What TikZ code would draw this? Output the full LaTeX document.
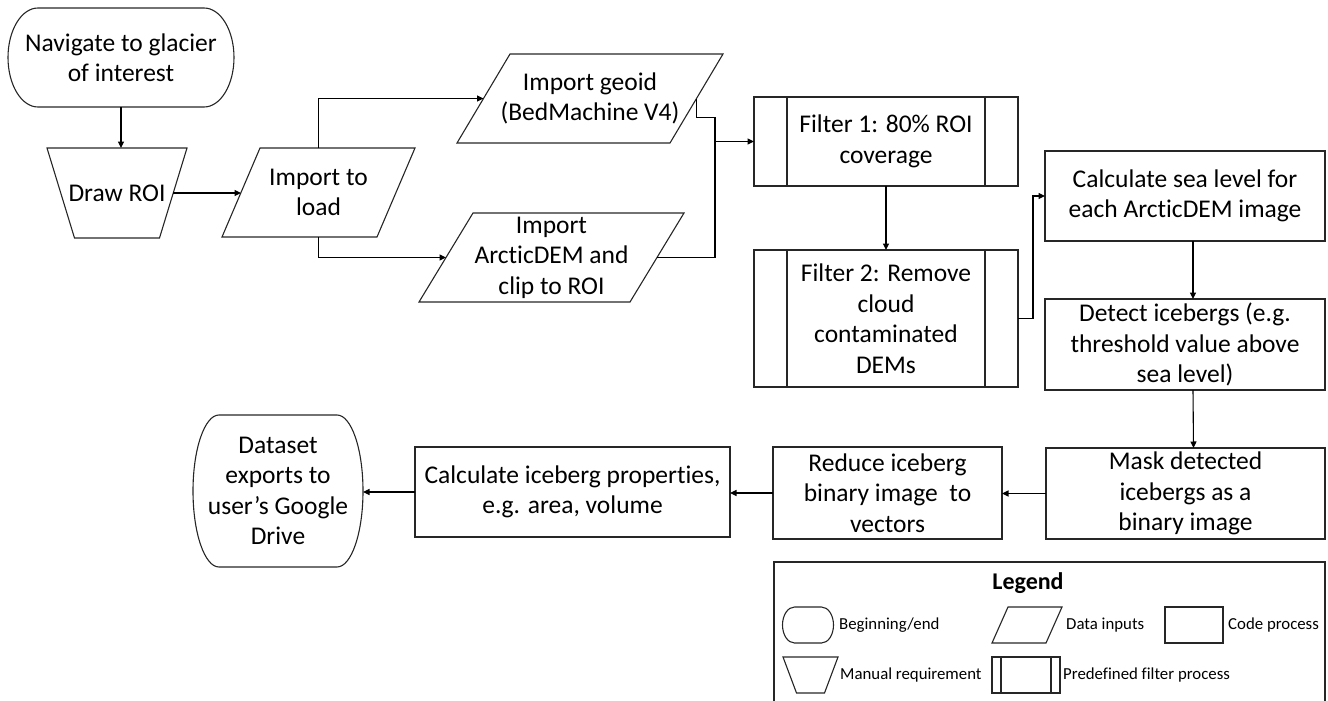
\documentclass[tikz,border=0pt]{standalone}
\usepackage{fontspec}
\setmainfont{Carlito}[Ligatures=NoCommon]
\usetikzlibrary{arrows.meta,calc}

% Flowchart terminator: flat top and bottom, half-ellipse ends
\newcommand\termshape[3]{%
  \draw[outline] ($(#1.north west)+(#2,0)$) -- ($(#1.north east)+(-#2,0)$)
    arc[start angle=90, end angle=-90, x radius=#2, y radius=#3]
    -- ($(#1.south west)+(#2,0)$)
    arc[start angle=270, end angle=90, x radius=#2, y radius=#3] -- cycle;}
% Data input: parallelogram leaning right, with side midpoints #1-l and #1-r
\newcommand\datashape[2]{%
  \draw[outline] (#1.south west) -- ($(#1.south east)+(-#2,0)$) -- (#1.north east)
    -- ($(#1.north west)+(#2,0)$) -- cycle;
  \coordinate (#1-l) at ($(#1.west)+(#2/2,0)$);
  \coordinate (#1-r) at ($(#1.east)+(-#2/2,0)$);}
% Manual operation: trapezoid, wide on top
\newcommand\manshape[2]{%
  \draw[outline] (#1.north west) -- (#1.north east) -- ($(#1.south east)+(-#2,0)$)
    -- ($(#1.south west)+(#2,0)$) -- cycle;
  \coordinate (#1-l) at ($(#1.west)+(#2/2,0)$);
  \coordinate (#1-r) at ($(#1.east)+(-#2/2,0)$);}

\begin{document}
\begin{tikzpicture}[x=1pt,y=1pt,
  outline/.style={draw=black!85, line width=1.1pt},
  txt/.style={font=\fontsize{25.5}{30.5}\selectfont, align=center, text=black},
  ltxt/.style={font=\fontsize{16.8}{20}\selectfont, text=black, inner sep=0pt, anchor=west},
  size/.style 2 args={minimum width=#1, minimum height=#2},
  box/.style 2 args={rectangle, outline, txt, inner sep=0pt, outer sep=0pt, size={#1}{#2}},
  shell/.style 2 args={rectangle, txt, inner sep=0pt, outer sep=0pt, size={#1}{#2}},
  filt/.style={path picture={
    \draw[outline] ([xshift=#1]path picture bounding box.north west) -- ([xshift=#1]path picture bounding box.south west)
                   ([xshift=-#1]path picture bounding box.north east) -- ([xshift=-#1]path picture bounding box.south east);}},
  line/.style={draw=black, line width=1.1pt},
  flow/.style={line, -{Triangle[length=6.5pt,width=6pt]}}
]
\useasboundingbox (0,0) rectangle (1328,-701);

% ---- main flow ----
\node[shell={226}{99}] (start) at (121,-57.5) {Navigate to glacier\\of interest};
\termshape{start}{30}{49.5}

\node[shell={140}{90}] (droi) at (117,-193) {Draw ROI};
\manshape{droi}{27.5}
\node[shell={193}{89}] (load) at (318.5,-192.5) {Import to\\load};
\datashape{load}{38}
\node[shell={266}{89}] (geoid) at (590,-98.5) {Import geoid\\(BedMachine V4)};
\datashape{geoid}{53}
\node[shell={265}{89}] (ad) at (551.5,-257.5) {Import\\ArcticDEM and\\clip to ROI};
\datashape{ad}{54}

\node[box={264}{89}, filt=33pt] (f1) at (886,-141.5) {Filter 1: 80\% ROI\\coverage};
\node[box={264}{137}, filt=33pt] (f2) at (886,-318.5) {Filter 2: Remove\\cloud\\contaminated\\DEMs};

\node[box={280}{90}] (sea) at (1185,-196) {Calculate sea level for\\each ArcticDEM image};
\node[box={280}{91}] (det) at (1185,-344.5) {Detect icebergs (e.g.\\threshold value above\\sea level)};
\node[box={279}{91}] (mask) at (1185.5,-493.5) {Mask detected\\icebergs as a\\binary image};
\node[box={229}{92}] (red) at (887.5,-493) {Reduce iceberg\\binary image\ \ to\\vectors};
\node[box={315}{90}] (props) at (572.5,-492) {Calculate iceberg properties,\\e.g. area, volume};

\node[shell={170}{152}] (ds) at (278,-491) {Dataset\\exports to\\user’s Google\\Drive};
\termshape{ds}{26}{76}

% ---- connectors ----
\draw[flow] (start.south) -- (start.south |- droi.north);
\draw[flow] (droi-r) -- (droi-r -| load-l);
\draw[flow] (load.center |- load.north) |- (geoid-l);
\draw[flow] (load.center |- load.south) |- (ad-l);
\path (f1.west) ++(-39,0) coordinate (merge);
\draw[line] (geoid-r) -- ++(0,-19) -| (merge);
\draw[line] (ad-r) -| (merge);
\draw[flow] (merge) -- (f1.west);
\draw[flow] (f1.south) -- (f2.north);
\draw[flow] (f2.east) -- ++(15,0) |- (sea.west);
\draw[flow] ([xshift=8pt]sea.south) -- ([xshift=8pt]det.north);
\draw[flow] ([xshift=8pt]det.south) -- ([xshift=8pt]mask.north);
\draw[flow] (mask.west) -- (mask.west -| red.east);
\draw[flow] (red.west) -- (red.west -| props.east);
\draw[flow] (props.west) -- (props.west -| ds.east);

% ---- legend ----
\node[rectangle, outline, inner sep=0pt, outer sep=0pt, size={551}{143}, anchor=north west] (legend) at (774,-562) {};
\node[font=\fontsize{24}{28}\selectfont\bfseries, inner sep=0pt] (legtitle) at (1028,-583) {Legend};

\node[shell={51}{36}] (lterm) at (808,-625) {};
\termshape{lterm}{12}{18}
\node[ltxt] (lterm-t) at (839,-625) {Beginning/end};
\node[shell={70}{36}] (ldata) at (1027,-625) {};
\datashape{ldata}{16}
\node[ltxt] (ldata-t) at (1066,-625) {Data inputs};
\node[box={58}{36}] (lproc) at (1194,-625) {};
\node[ltxt] (lproc-t) at (1228,-625) {Code process};
\node[shell={55}{36}] (lman) at (810.5,-675) {};
\manshape{lman}{13.5}
\node[ltxt] (lman-t) at (840,-675) {Manual requirement};
\node[box={68}{36}, filt=9pt] (lfilt) at (1026,-675) {};
\node[ltxt] (lfilt-t) at (1063,-675) {Predefined filter process};
\end{tikzpicture}
\end{document}
